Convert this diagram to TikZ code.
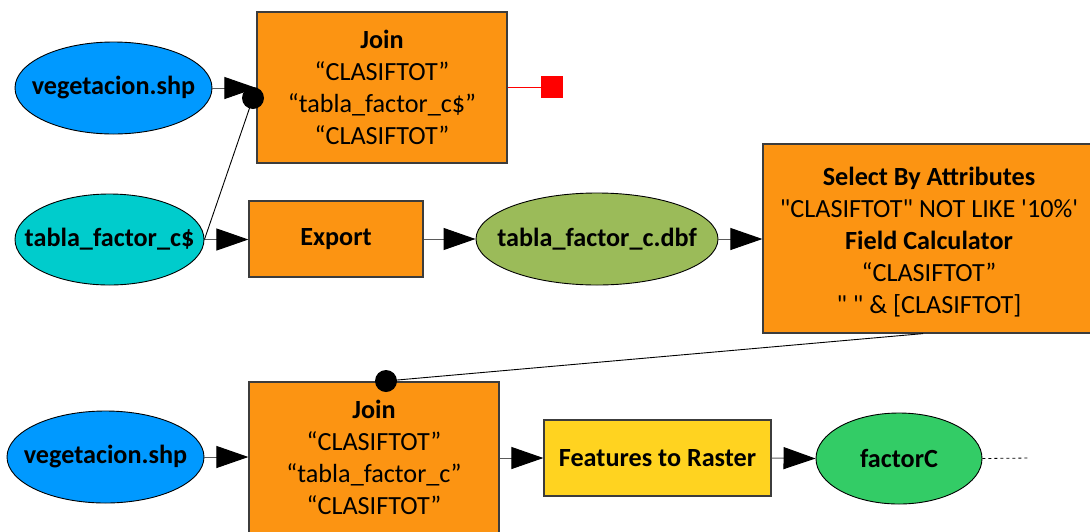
\documentclass[tikz,border=0pt]{standalone}
\usepackage{fontspec}
\setmainfont{Carlito}[Ligatures=TeXOff]
\usetikzlibrary{arrows.meta,shapes.geometric,calc}
\definecolor{orangebox}{RGB}{252,148,18}
\definecolor{blueell}{RGB}{0,153,255}
\definecolor{cyanell}{RGB}{0,204,204}
\definecolor{dbfgreen}{RGB}{155,187,89}
\definecolor{facgreen}{RGB}{51,204,102}
\definecolor{yellowbox}{RGB}{255,211,32}
\definecolor{boxedge}{RGB}{60,60,60}
\definecolor{linegray}{RGB}{90,90,90}
\tikzset{
  txt/.style={font=\fontsize{26.2}{32}\selectfont, align=center, text=black},
  ell/.style={ellipse, draw=black, line width=0.9pt, inner xsep=-60pt, inner ysep=-12pt, txt},
  tool/.style={rectangle, draw=boxedge, line width=1.2pt, inner sep=0pt, txt},
  flow/.style={draw=linegray, line width=1pt, -{Triangle[length=32pt,width=22pt,color=black]}},
  joindot/.style={circle, fill=black, inner sep=0pt, minimum size=22pt},
}
\begin{document}
\begin{tikzpicture}[x=1pt,y=-1pt]
\useasboundingbox (0,0) rectangle (1090,531);
\begin{scope}
\clip (0,0) rectangle (1090,531);
% top row
\node[ell, fill=blueell, minimum width=197pt, minimum height=92pt] (veg1) at (113.5,88) {\bfseries vegetacion.shp};
\node[tool, fill=orangebox, minimum width=250pt, minimum height=151pt] (join1) at (382,87.5)
  {\bfseries Join\\“CLASIFTOT”\\“tabla\_factor\_c\$”\\“CLASIFTOT”};
\node[rectangle, fill=red, inner sep=0pt, minimum size=22pt] (redsq) at (552,87) {};
\node[ell, fill=cyanell, minimum width=189pt, minimum height=91pt] (tab) at (109.5,239.5) {\bfseries tabla\_factor\_c\$};
\node[tool, fill=orangebox, minimum width=174pt, minimum height=76pt] (exp) at (336,239) {\bfseries Export};
\node[ell, fill=dbfgreen, minimum width=242pt, minimum height=92pt] (dbf) at (597,239) {\bfseries tabla\_factor\_c.dbf};
\node[tool, fill=orangebox, minimum width=332pt, minimum height=189pt,
  label={[txt, yshift=-4pt]center:{\textbf{Select By Attributes}\\"CLASIFTOT" NOT LIKE '10\%'\\\textbf{Field Calculator}\\“CLASIFTOT”\\" " \& [CLASIFTOT]}}] (sel) at (929,238.5) {};
% bottom row
\node[ell, fill=blueell, minimum width=197pt, minimum height=92pt] (veg2) at (105.5,457) {\bfseries vegetacion.shp};
\node[tool, fill=orangebox, minimum width=250pt, minimum height=151pt] (join2) at (374,457.5)
  {\bfseries Join\\“CLASIFTOT”\\“tabla\_factor\_c”\\“CLASIFTOT”};
\node[tool, fill=yellowbox, minimum width=227pt, minimum height=76pt] (feat) at (657.5,458) {\bfseries Features to Raster};
\node[ell, fill=facgreen, minimum width=166pt, minimum height=91pt] (facC) at (899,458.5) {\bfseries factorC};
\coordinate (dashend) at (1030,458);
% connectors
\draw[flow] (veg1.east) -- (veg1.east -| join1.west);
\draw[flow] (tab.east) -- (tab.east -| exp.west);
\draw[flow] (exp.east) -- (exp.east -| dbf.west);
\draw[flow] (dbf.east) -- (dbf.east -| sel.west);
\draw[flow] (veg2.east) -- (veg2.east -| join2.west);
\draw[flow] (join2.east |- feat.west) -- (feat.west);
\draw[flow] (feat.east) -- (facC.west);
\draw[black, line width=0.8pt, dash pattern=on 3pt off 3pt] (facC.east) -- (dashend);
\draw[red, line width=0.8pt] (join1.east |- redsq.west) -- (redsq.west);
\node[joindot] (dot1) at (253,98) {};
\node[joindot] (dot2) at (386,381) {};
\draw[black, line width=0.9pt] (tab.east) -- (dot1.center);
\draw[black, line width=0.9pt] ($(sel.south)+(-6,0)$) -- (dot2.center);
\end{scope}
\end{tikzpicture}
\end{document}
